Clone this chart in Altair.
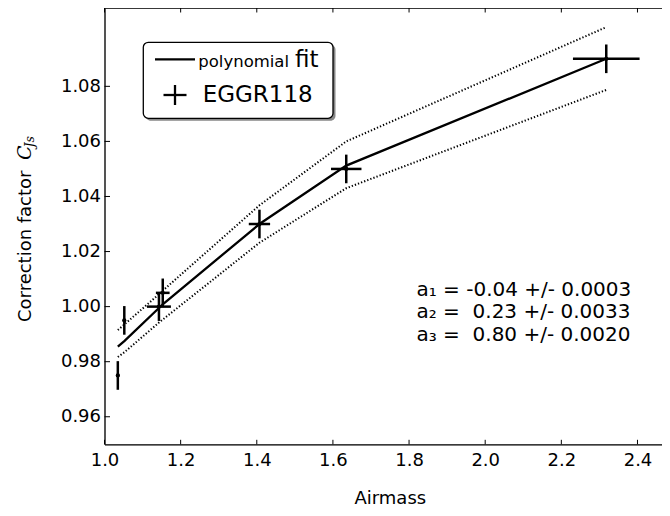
import altair as alt
import pandas as pd

# ---- data ----
airmass = [1.035, 1.052, 1.143, 1.153, 1.407, 1.635, 2.318]
cfac = [0.975, 0.995, 1.000, 1.005, 1.030, 1.050, 1.090]
x_err = [0.004, 0.004, 0.0315, 0.018, 0.028, 0.040, 0.0875]
y_err = [0.0052, 0.0052, 0.0052, 0.0052, 0.0052, 0.0052, 0.0052]

fit_x = [1.035, 1.052, 1.143, 1.153, 1.407, 1.635, 2.318]
fit_y = [0.9855, 0.9875, 0.9995, 1.0008, 1.0300, 1.0512, 1.0900]
upper_y = [0.9915, 0.9935, 1.0045, 1.0058, 1.0368, 1.0600, 1.1015]
lower_y = [0.9817, 0.9834, 0.9942, 0.9953, 1.0232, 1.0430, 1.0787]

x_ticks = [1.0, 1.2, 1.4, 1.6, 1.8, 2.0, 2.2, 2.4]
y_ticks = [0.96, 0.98, 1.00, 1.02, 1.04, 1.06, 1.08]

coef_lines = ["a\u2081 = -0.04 +/- 0.0003",
              "a\u2082 =\u00a0 0.23 +/- 0.0033",
              "a\u2083 =\u00a0 0.80 +/- 0.0020"]

W, H = 557.5, 436.3
X_DOM = [1.0, 2.4644]
Y_DOM = [0.95, 1.10845]
FONT = "DejaVu Sans"

pts = pd.DataFrame({"x": airmass, "y": cfac})
pts["xlo"] = [a - e for a, e in zip(airmass, x_err)]
pts["xhi"] = [a + e for a, e in zip(airmass, x_err)]
pts["ylo"] = [a - e for a, e in zip(cfac, y_err)]
pts["yhi"] = [a + e for a, e in zip(cfac, y_err)]

fit = pd.DataFrame({"x": fit_x, "fit": fit_y, "up": upper_y, "lo": lower_y})

xs = alt.Scale(domain=X_DOM, nice=False, zero=False)
ys = alt.Scale(domain=Y_DOM, nice=False, zero=False)

xaxis = alt.Axis(values=x_ticks, format=".1f", title=None, ticks=False, grid=False,
                 domainColor="black", domainWidth=1.3, labelFont=FONT, labelFontSize=18,
                 labelColor="black", labelPadding=7, labelFlush=False)
yaxis = alt.Axis(values=y_ticks, format=".2f", title=None, ticks=False, grid=False,
                 domainColor="black", domainWidth=1.3, labelFont=FONT, labelFontSize=18,
                 labelColor="black", labelPadding=4, labelFlush=False)

base = alt.Chart(fit)
upper = base.mark_line(color="black", strokeWidth=2, strokeDash=[1.3, 2], clip=True).encode(
    x=alt.X("x:Q", scale=xs, axis=xaxis), y=alt.Y("up:Q", scale=ys, axis=yaxis))
lower = base.mark_line(color="black", strokeWidth=2, strokeDash=[1.3, 2], clip=True).encode(
    x=alt.X("x:Q", scale=xs), y=alt.Y("lo:Q", scale=ys))
fitline = base.mark_line(color="black", strokeWidth=2.3, clip=True).encode(
    x=alt.X("x:Q", scale=xs), y=alt.Y("fit:Q", scale=ys))

pbase = alt.Chart(pts)
hbar = pbase.mark_rule(color="black", strokeWidth=2.5).encode(
    x=alt.X("xlo:Q", scale=xs), x2="xhi:Q", y=alt.Y("y:Q", scale=ys))
vbar = pbase.mark_rule(color="black", strokeWidth=2.5).encode(
    x=alt.X("x:Q", scale=xs), y=alt.Y("ylo:Q", scale=ys), y2="yhi:Q")
dots = pbase.mark_point(filled=True, color="black", size=18, opacity=1).encode(
    x=alt.X("x:Q", scale=xs), y=alt.Y("y:Q", scale=ys))

# inward ticks (matplotlib style)
ytk = alt.Chart(pd.DataFrame({"v": y_ticks}))
ytick_l = ytk.mark_rule(color="black", strokeWidth=1).encode(
    y=alt.Y("v:Q", scale=ys), x=alt.value(0), x2=alt.value(5.5))
xtk = alt.Chart(pd.DataFrame({"v": x_ticks}))
xtick_b = xtk.mark_rule(color="black", strokeWidth=1).encode(
    x=alt.X("v:Q", scale=xs), y=alt.value(H), y2=alt.value(H - 4.5))
xtick_t = xtk.mark_rule(color="black", strokeWidth=1).encode(
    x=alt.X("v:Q", scale=xs), y=alt.value(0), y2=alt.value(4.5))

one = pd.DataFrame({"a": [0]})
top_spine = alt.Chart(one).mark_rule(color="black", strokeWidth=1.3).encode(
    x=alt.value(0), x2=alt.value(W), y=alt.value(0))

# legend (hand-built)
lx0, ly0, lx1, ly1 = 38.8, 34.3, 228.5, 110.3
shadow = alt.Chart(one).mark_rect(color="#888888", cornerRadius=5).encode(
    x=alt.value(lx0 + 2.5), x2=alt.value(lx1 + 2.5), y=alt.value(ly0 + 2.5), y2=alt.value(ly1 + 2.5))
box = alt.Chart(one).mark_rect(fill="white", stroke="black", strokeWidth=1.3, cornerRadius=5).encode(
    x=alt.value(lx0), x2=alt.value(lx1), y=alt.value(ly0), y2=alt.value(ly1))
leg_line = alt.Chart(one).mark_rule(color="black", strokeWidth=2.3).encode(
    x=alt.value(50.5), x2=alt.value(90.5), y=alt.value(51.3))
leg_t1 = alt.Chart(one).mark_text(font=FONT, fontSize=16.5, align="left", baseline="alphabetic",
                                  color="black").encode(
    x=alt.value(93.8), y=alt.value(58.7), text=alt.value("polynomial"))
leg_t1b = alt.Chart(one).mark_text(font=FONT, fontSize=23, align="left", baseline="alphabetic",
                                   color="black").encode(
    x=alt.value(190.5), y=alt.value(58.7), text=alt.value("fit"))
leg_ch = alt.Chart(one).mark_rule(color="black", strokeWidth=2.3).encode(
    x=alt.value(59), x2=alt.value(82), y=alt.value(87))
leg_cv = alt.Chart(one).mark_rule(color="black", strokeWidth=2.3).encode(
    x=alt.value(70.5), y=alt.value(77), y2=alt.value(97))
leg_t2 = alt.Chart(one).mark_text(font=FONT, fontSize=23, align="left", baseline="alphabetic",
                                  color="black").encode(
    x=alt.value(98.2), y=alt.value(93.7), text=alt.value("EGGR118"))

# coefficient annotation
coef = pd.DataFrame({"t": coef_lines, "i": [0, 1, 2]})
coef["yy"] = [287.6 + 22.7 * k for k in range(3)]
coef_txt = alt.Chart(coef).mark_text(font=FONT, fontSize=20, align="left", baseline="alphabetic",
                                      color="black").encode(
    x=alt.value(312.0), y=alt.Y("yy:Q", scale=None), text="t:N")

# axis titles
xtitle = alt.Chart(one).mark_text(font=FONT, fontSize=18, align="center", baseline="alphabetic",
                                  color="black").encode(
    x=alt.value(285.8), y=alt.value(496), text=alt.value("Airmass"))
ytitle = alt.Chart(one).mark_text(font=FONT, fontSize=18, align="left", baseline="alphabetic",
                                  angle=270, color="black").encode(
    x=alt.value(-73.5), y=alt.value(314), text=alt.value("Correction factor"))
ytitle_c = alt.Chart(one).mark_text(font="DejaVu Serif", fontStyle="italic", fontSize=19, align="left",
                                    baseline="alphabetic", angle=270, color="black").encode(
    x=alt.value(-73.5), y=alt.value(152), text=alt.value("C"))
ytitle_s = alt.Chart(one).mark_text(font="DejaVu Serif", fontStyle="italic", fontSize=12.5, align="left",
                                    baseline="alphabetic", angle=270, color="black").encode(
    x=alt.value(-70.5), y=alt.value(139.5), text=alt.value("Js"))

chart = alt.layer(
    upper, lower, fitline, hbar, vbar, dots,
    ytick_l, xtick_b, xtick_t, top_spine,
    shadow, box, leg_line, leg_t1, leg_t1b, leg_ch, leg_cv, leg_t2,
    coef_txt, xtitle, ytitle, ytitle_c, ytitle_s,
).properties(
    width=W, height=H,
    autosize=alt.AutoSizeParams(type="none"),
    padding={"left": 96.5, "top": 0, "right": 0, "bottom": 63.5},
).configure_view(stroke=None).configure(background="white")

chart.save("out.html", embed_options={"renderer": "svg", "actions": False})
